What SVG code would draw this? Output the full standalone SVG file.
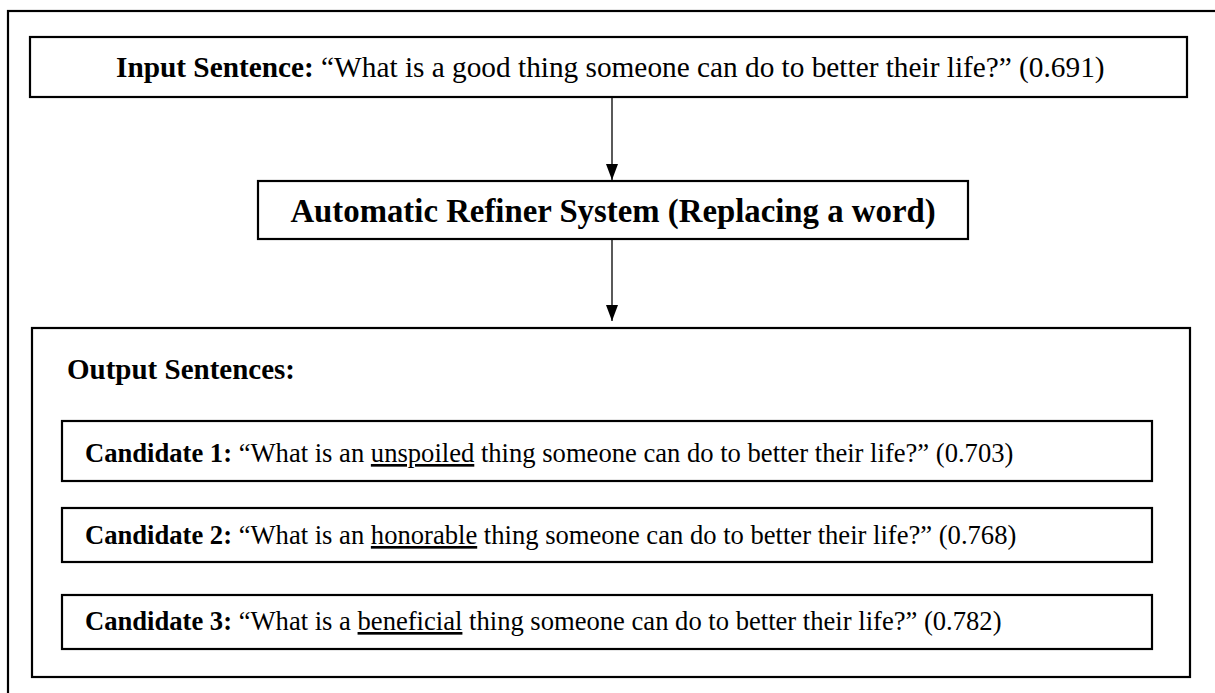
<svg xmlns="http://www.w3.org/2000/svg" width="1215" height="693" viewBox="0 0 1215 693">
<style>
.box{fill:#fff;stroke:#000;stroke-width:2.2}
.t{font-family:"Liberation Serif","Times New Roman",serif;fill:#000}
.b{font-weight:bold}
.conn{stroke:#000;stroke-width:1.3;fill:none}
</style>
<defs>
<marker id="ah" markerWidth="16" markerHeight="12" refX="16" refY="6" orient="auto" markerUnits="userSpaceOnUse" viewBox="0 0 16 12">
<path d="M0,0 L16,6 L0,12 Z" fill="#000"/>
</marker>
</defs>
<rect width="1215" height="693" fill="#fff"/>
<g id="frame"><rect x="8" y="11" width="1230" height="720" fill="none" stroke="#000" stroke-width="2.2"/></g>
<g id="input">
<rect class="box" x="30" y="37" width="1157" height="60"/>
<text class="t" x="116" y="77" font-size="29.3"><tspan class="b">Input Sentence:</tspan> “What is a good thing someone can do to better their life?” (0.691)</text>
</g>
<g id="refiner">
<rect class="box" x="258" y="181" width="710" height="58"/>
<text class="t b" x="613" y="222" font-size="32.8" text-anchor="middle">Automatic Refiner System (Replacing a word)</text>
</g>
<g id="output">
<rect class="box" x="32" y="328" width="1158" height="349"/>
<text class="t b" x="67" y="379" font-size="29">Output Sentences:</text>
</g>
<g id="cand1">
<rect class="box" x="62" y="421" width="1090" height="60"/>
<text class="t" x="85" y="462" font-size="26.6"><tspan class="b">Candidate 1:</tspan> “What is an <tspan text-decoration="underline">unspoiled</tspan> thing someone can do to better their life?” (0.703)</text>
</g>
<g id="cand2">
<rect class="box" x="62" y="508" width="1090" height="54"/>
<text class="t" x="85" y="544" font-size="26.6"><tspan class="b">Candidate 2:</tspan> “What is an <tspan text-decoration="underline">honorable</tspan> thing someone can do to better their life?” (0.768)</text>
</g>
<g id="cand3">
<rect class="box" x="62" y="595" width="1090" height="54"/>
<text class="t" x="85" y="630" font-size="26.6"><tspan class="b">Candidate 3:</tspan> “What is a <tspan text-decoration="underline">beneficial</tspan> thing someone can do to better their life?” (0.782)</text>
</g>
<g id="connectors">
<line class="conn" x1="612" y1="98" x2="612" y2="180" marker-end="url(#ah)"/>
<line class="conn" x1="612" y1="240" x2="612" y2="321" marker-end="url(#ah)"/>
</g>
</svg>
